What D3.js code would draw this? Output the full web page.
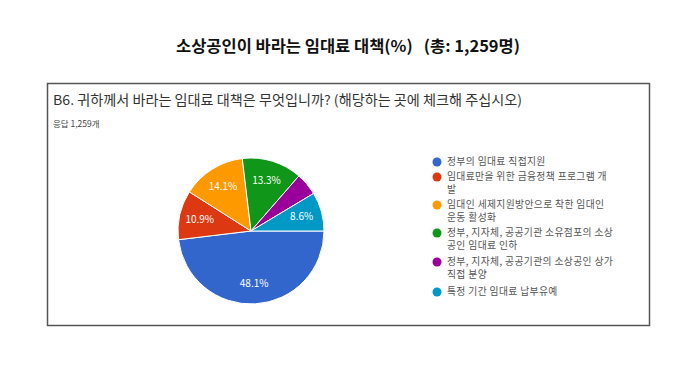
<!DOCTYPE html>
<html>
<head>
<meta charset="utf-8">
<script src="https://cdn.jsdelivr.net/npm/d3@7"></script>
<style>
  body { margin: 0; background: #fff; }
  text { font-family: "Noto Sans CJK KR", "Noto Sans", sans-serif; white-space: pre; }
</style>
</head>
<body>
<script>
const width = 700;
const height = 375;

// survey answers (share of 1,259 respondents)
const categories = [
    ["정부의 임대료 직접지원"],
    ["임대료만을 위한 금융정책 프로그램 개", "발"],
    ["임대인 세제지원방안으로 착한 임대인", "운동 활성화"],
    ["정부, 지자체, 공공기관 소유점포의 소상", "공인 임대료 인하"],
    ["정부, 지자체, 공공기관의 소상공인 상가", "직접 분양"],
    ["특정 기간 임대료 납부유예"]
];
const values = [48.1, 10.9, 14.1, 13.3, 5.0, 8.6];
const colors = ["#3366cc", "#dc3912", "#ff9900", "#109618", "#990099", "#0099c6"];

const svg = d3.select("body").append("svg")
    .attr("width", width)
    .attr("height", height);

svg.append("text")
    .attr("x", 176)
    .attr("y", 52)
    .attr("font-size", 16)
    .attr("font-weight", "bold")
    .attr("fill", "#111")
    .attr("textLength", 344)
    .attr("lengthAdjust", "spacingAndGlyphs")
    .text("소상공인이 바라는 임대료 대책(%)   (총: 1,259명)");

// form card
svg.append("rect")
    .attr("x", 47.5).attr("y", 83.5)
    .attr("width", 602).attr("height", 242)
    .attr("fill", "#fff")
    .attr("stroke", "#555")
    .attr("stroke-width", 1.5);

svg.append("text")
    .attr("x", 53).attr("y", 105)
    .attr("font-size", 13.5)
    .attr("fill", "#333")
    .attr("textLength", 469)
    .attr("lengthAdjust", "spacingAndGlyphs")
    .text("B6. 귀하께서 바라는 임대료 대책은 무엇입니까? (해당하는 곳에 체크해 주십시오)");

svg.append("text")
    .attr("x", 53).attr("y", 127)
    .attr("font-size", 8.5)
    .attr("fill", "#444")
    .text("응답 1,259개");

// pie
const r = 73;
const pie = d3.pie().sort(null)
    .startAngle(Math.PI / 2)
    .endAngle(Math.PI / 2 + 2 * Math.PI);
const arc = d3.arc().innerRadius(0).outerRadius(r);
const labelArc = d3.arc().innerRadius(r * 0.72).outerRadius(r * 0.72);

const g = svg.append("g").attr("transform", "translate(251,231)");
const arcs = pie(values);

g.selectAll("path")
    .data(arcs)
    .join("path")
    .attr("d", arc)
    .attr("fill", (d, i) => colors[i])
    .attr("stroke", "#fff")
    .attr("stroke-width", 1);

g.selectAll("text")
    .data(arcs.filter(d => d.data > 6))
    .join("text")
    .attr("transform", d => `translate(${labelArc.centroid(d)})`)
    .attr("text-anchor", "middle")
    .attr("dy", "0.35em")
    .attr("font-size", 10)
    .attr("fill", "#fff")
    .text(d => d.data.toFixed(1) + "%");

// legend
const legendY = [162, 177, 205, 233, 262, 292];
const legend = svg.append("g");
categories.forEach((lines, i) => {
    legend.append("circle")
        .attr("cx", 437).attr("cy", legendY[i])
        .attr("r", 4.5)
        .attr("fill", colors[i]);
    lines.forEach((line, j) => {
        legend.append("text")
            .attr("x", 447)
            .attr("y", legendY[i] + j * 13)
            .attr("dy", "0.35em")
            .attr("font-size", 9.8)
            .attr("letter-spacing", 0.35)
            .attr("fill", "#555")
            .text(line);
    });
});
</script>
</body>
</html>
